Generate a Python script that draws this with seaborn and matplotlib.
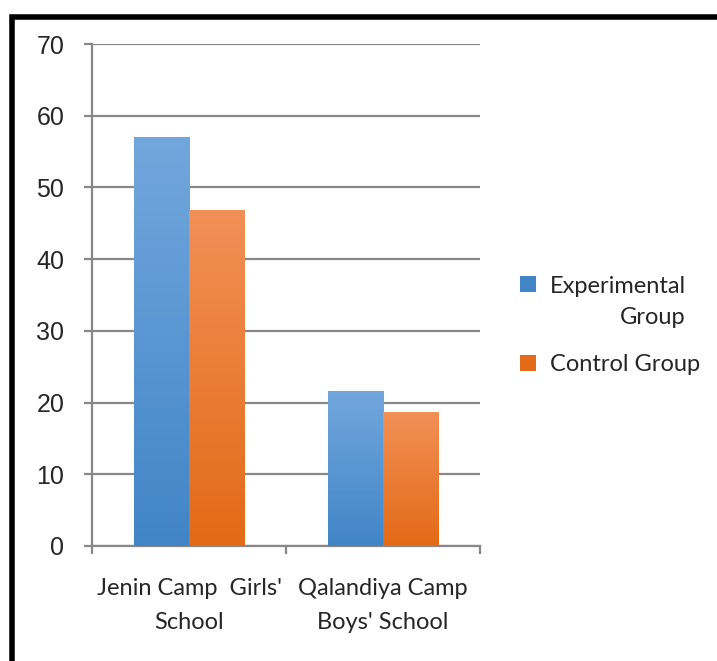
import numpy as np
import pandas as pd
import matplotlib
matplotlib.use("Agg")
import matplotlib.pyplot as plt
from matplotlib.colors import LinearSegmentedColormap
from matplotlib.patches import Rectangle, Patch
from matplotlib.legend_handler import HandlerPatch
import seaborn as sns

schools = ["Jenin Camp  Girls'\nSchool", "Qalandiya Camp\nBoys' School"]
groups = ["Experimental\nGroup", "Control Group"]
experimental = [57.0, 21.6]
control = [46.9, 18.7]
y_ticks = [0, 10, 20, 30, 40, 50, 60, 70]

# gradient colours (top, bottom) per group
grad = {
    groups[0]: ("#72a7dd", "#4185c7"),
    groups[1]: ("#f29057", "#e36a16"),
}

df = pd.DataFrame({
    "school": schools * 2,
    "group": [groups[0]] * 2 + [groups[1]] * 2,
    "value": experimental + control,
})

sns.set_style("white")
fig = plt.figure(figsize=(7.17, 6.61), dpi=100)
ax = fig.add_axes([0.1283, 0.174, 0.5412, 0.7594])

palette = {g: grad[g][1] for g in groups}
sns.barplot(data=df, x="school", y="value", hue="group", hue_order=groups,
            palette=palette, width=0.572, saturation=1, ax=ax, legend=False,
            linewidth=0, zorder=3)

# overlay vertical gradients clipped to each bar
for patch, g in zip(ax.patches, [groups[0]] * 2 + [groups[1]] * 2):
    x0, y0 = patch.get_x(), patch.get_y()
    w, h = patch.get_width(), patch.get_height()
    cmap = LinearSegmentedColormap.from_list("g", [grad[g][1], grad[g][0]])
    im = ax.imshow(np.linspace(0, 1, 256).reshape(-1, 1), cmap=cmap,
                   extent=[x0, x0 + w, y0, y0 + h], origin="lower",
                   aspect="auto", zorder=4)
    im.set_clip_path(patch)

ax.set_xlim(-0.5, 1.5)
ax.set_ylim(0, 70)
ax.set_yticks(y_ticks)
ax.set_yticklabels([str(t) for t in y_ticks], fontsize=18, family="Liberation Sans")
ax.yaxis.grid(True, color="#888888", linewidth=1.6, zorder=1)
ax.set_axisbelow(True)
ax.tick_params(axis="y", length=6, width=1.6, color="#888888", pad=14, left=True)
ax.set_xticks([0, 1])
ax.set_xticklabels(schools, fontsize=17, family="Lato", linespacing=1.75)
ax.tick_params(axis="x", length=0, pad=23)
ax.set_xticks([-0.5, 0.5, 1.5], minor=True)
ax.tick_params(axis="x", which="minor", length=6, width=1.6, color="#888888", bottom=True)
ax.set_xlabel("")
ax.set_ylabel("")
for s in ["top", "right"]:
    ax.spines[s].set_visible(False)
for s in ["left", "bottom"]:
    ax.spines[s].set_color("#888888")
    ax.spines[s].set_linewidth(1.6)


def square_top(legend, orig_handle, xdescent, ydescent, width, height, fontsize):
    # put the swatch next to the first line of a two-line label
    lift = 13.5 if "\n" in orig_handle.get_label() else 0
    return Rectangle((-xdescent, -ydescent + lift), width, height)


handles = [Patch(facecolor=palette[g], label=g, linewidth=0) for g in groups]
leg = fig.legend(handles, groups, loc="center left", bbox_to_anchor=(0.696, 0.507),
                 frameon=False, prop={"family": "Lato", "size": 17},
                 handletextpad=0.6, labelspacing=1.1, handlelength=0.65,
                 handleheight=0.65,
                 handler_map={Patch: HandlerPatch(patch_func=square_top)})
for t in leg.get_texts():
    t.set_multialignment("right")
    t.set_linespacing(1.6)

# thick black frame around the chart (right/bottom cropped)
fig.patches.append(Rectangle((12 / 717, -0.1), 1.2, 1.1 - 16.5 / 661,
                             transform=fig.transFigure, fill=False,
                             edgecolor="black", linewidth=4))

fig.savefig("out.png", dpi=100)
